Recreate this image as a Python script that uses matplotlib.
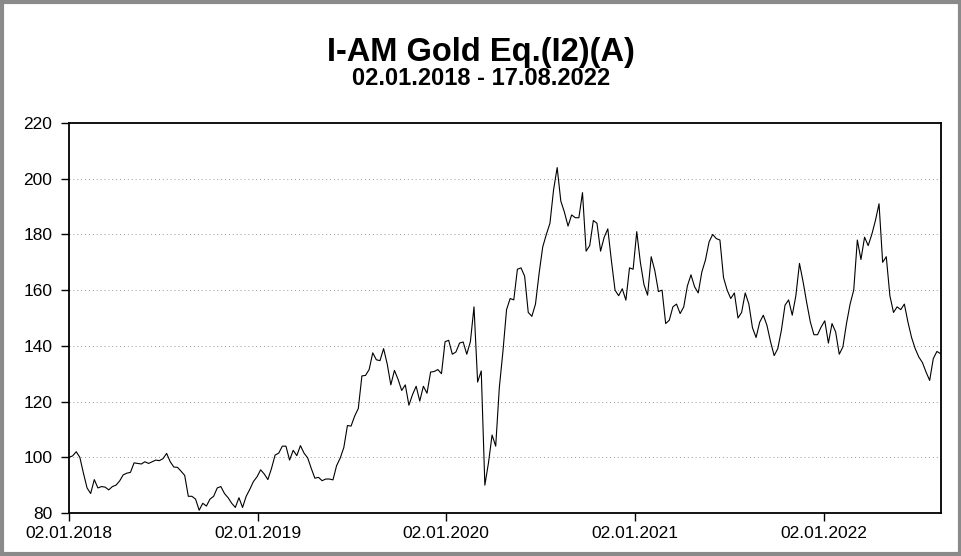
import pandas as pd
import matplotlib
matplotlib.use('Agg')
import matplotlib.pyplot as plt
import matplotlib.dates as mdates
from matplotlib.patches import Rectangle

plt.rcParams['font.family'] = ['Liberation Sans', 'DejaVu Sans']

# Weekly values (starting 02.01.2018)
start_date = '2018-01-02'
end_date = '2022-08-17'
values = [
    100, 100.5, 102, 100, 94.3, 89, 87, 92, 89, 89.5,
    89.3, 88.3, 89.5, 90, 91.5, 93.7, 94.3, 94.6, 98, 97.8,
    97.6, 98.4, 97.8, 98.4, 99, 98.8, 99.5, 101.4, 98.4, 96.5,
    96.4, 95, 93.5, 86, 86, 85, 81, 83.5, 82.5, 85,
    86, 89, 89.5, 87, 85.5, 83.5, 82, 85.5, 82, 86,
    88.5, 91.3, 93, 95.5, 94, 92, 96, 100.8, 101.5, 104,
    104, 99, 102.5, 100.6, 104.2, 101.5, 99.8, 96, 92.5, 92.8,
    91.6, 92.2, 92.2, 91.9, 97, 99.7, 103.5, 111.4, 111.2, 114.8,
    117.5, 129.2, 129.4, 131.5, 137.5, 135, 134.7, 139, 133.5, 126,
    131.2, 128, 124, 126, 118.7, 122.5, 125.5, 120.2, 125.5, 123,
    130.6, 130.8, 131.5, 130, 141.5, 142, 137, 137.8, 141, 141.4,
    137, 141.5, 154, 127, 131, 90, 98, 108, 104, 125,
    138, 153, 157, 156.5, 167.5, 168, 165, 152, 150.6, 155,
    166, 175.5, 180, 184, 196, 204, 192, 188, 183, 187,
    186, 186, 195, 174, 176, 185, 184, 174, 179, 182,
    170.5, 160, 158, 160.5, 156.4, 168, 167.5, 181, 170, 162,
    158.2, 172, 167, 159.5, 160, 148, 149.2, 154, 155, 151.6,
    154, 161.5, 165.5, 161.2, 159, 166.5, 170.8, 177.3, 180, 178.5,
    178, 164.5, 160, 157, 159, 150, 152, 159, 155, 146.5,
    143, 148.5, 151, 147.4, 141.5, 136.5, 139, 145.6, 154.6, 156.5,
    151, 158, 169.6, 163, 155.5, 148.6, 144, 144, 146.8, 149,
    141, 148, 145, 137, 139.6, 148, 155, 160, 178, 171,
    179, 176, 180, 185, 191, 170, 172, 158, 152, 154,
    153, 155, 148.5, 143, 139, 136, 134, 130.6, 127.6, 135.4,
    138, 137.2,
]
dates = pd.date_range(start_date, periods=len(values), freq='7D')

x_ticks = ['2018-01-02', '2019-01-02', '2020-01-02', '2021-01-02', '2022-01-02']
y_ticks = [80, 100, 120, 140, 160, 180, 200, 220]

fig = plt.figure(figsize=(9.62, 5.56), dpi=100)
ax = fig.add_axes([0.0717, 0.0773, 0.9065, 0.7015])

ax.plot(dates, values, color='black', linewidth=0.8)

ax.set_xlim(pd.Timestamp(start_date), pd.Timestamp(end_date))
ax.set_ylim(80, 220)
ax.set_yticks(y_ticks)
ax.set_xticks(pd.to_datetime(x_ticks))
ax.xaxis.set_major_formatter(mdates.DateFormatter('%d.%m.%Y'))
ax.tick_params(axis='both', labelsize=12.5, length=6, width=1, colors='black')
ax.tick_params(axis='y', pad=6)
ax.tick_params(axis='x', pad=3)

ax.grid(True, axis='y', color='#999999', linestyle=(0, (1, 3)), linewidth=0.7)
for s in ax.spines.values():
    s.set_linewidth(1.3)

fig.text(0.5, 0.906, 'I-AM Gold Eq.(I2)(A)', ha='center', va='center',
         fontsize=23.5, fontweight='bold')
fig.text(0.5, 0.859, '02.01.2018 - 17.08.2022', ha='center', va='center',
         fontsize=17, fontweight='bold')

# scanned page border
fig.patches.append(Rectangle((0.002, 0.004), 0.996, 0.992, transform=fig.transFigure,
                             fill=False, edgecolor='#8a8a8a', linewidth=3))

fig.savefig('out.png', dpi=100)
